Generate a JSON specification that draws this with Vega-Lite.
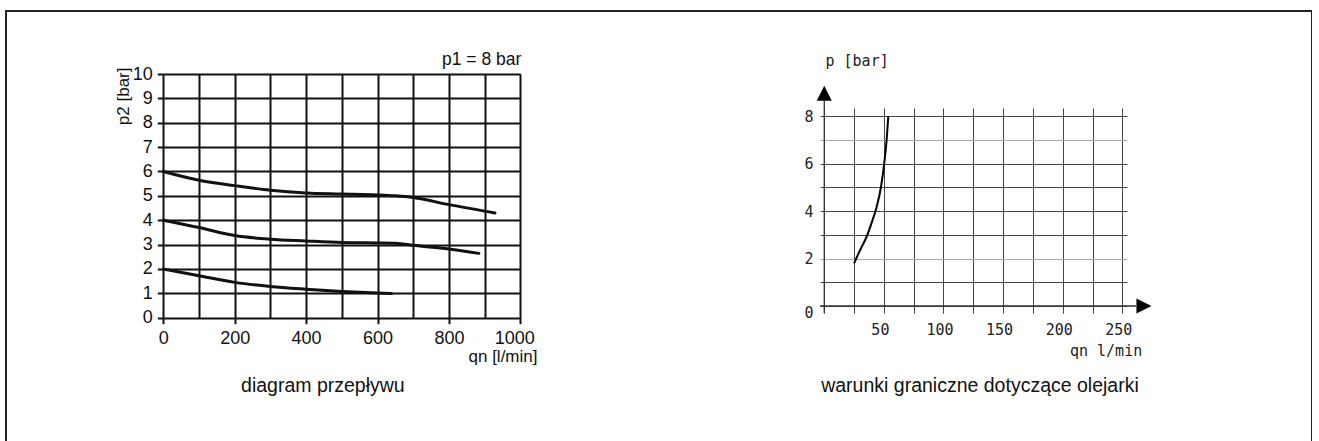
{
  "$schema": "https://vega.github.io/schema/vega-lite/v6.json",
  "width": 1306,
  "height": 440,
  "autosize": {"type": "none"},
  "padding": {"left": 6, "top": 11, "right": 0, "bottom": 0},
  "background": "white",
  "config": {
    "view": {"stroke": "#222", "strokeWidth": 2},
    "axis": {"titleFontWeight": "normal", "labelFlush": false, "labelOverlap": false, "labelBound": false, "labelAngle": 0}
  },
  "resolve": {
    "scale": {"x": "independent", "y": "independent"},
    "axis": {"x": "independent", "y": "independent"}
  },
  "layer": [
    {
      "layer": [
        {
          "data": {"values": [
            {"series": "6", "qn": 0, "p2": 6.0}, {"series": "6", "qn": 100, "p2": 5.64}, {"series": "6", "qn": 200, "p2": 5.42},
            {"series": "6", "qn": 300, "p2": 5.23}, {"series": "6", "qn": 400, "p2": 5.12}, {"series": "6", "qn": 500, "p2": 5.08},
            {"series": "6", "qn": 600, "p2": 5.04}, {"series": "6", "qn": 650, "p2": 5.0}, {"series": "6", "qn": 700, "p2": 4.93},
            {"series": "6", "qn": 800, "p2": 4.64}, {"series": "6", "qn": 929, "p2": 4.3},
            {"series": "4", "qn": 0, "p2": 4.0}, {"series": "4", "qn": 100, "p2": 3.7}, {"series": "4", "qn": 200, "p2": 3.37},
            {"series": "4", "qn": 300, "p2": 3.22}, {"series": "4", "qn": 400, "p2": 3.15}, {"series": "4", "qn": 500, "p2": 3.09},
            {"series": "4", "qn": 600, "p2": 3.07}, {"series": "4", "qn": 650, "p2": 3.06}, {"series": "4", "qn": 700, "p2": 2.97},
            {"series": "4", "qn": 800, "p2": 2.82}, {"series": "4", "qn": 884, "p2": 2.64},
            {"series": "2", "qn": 0, "p2": 2.0}, {"series": "2", "qn": 100, "p2": 1.72}, {"series": "2", "qn": 200, "p2": 1.45},
            {"series": "2", "qn": 300, "p2": 1.28}, {"series": "2", "qn": 400, "p2": 1.17}, {"series": "2", "qn": 500, "p2": 1.08},
            {"series": "2", "qn": 600, "p2": 1.01}, {"series": "2", "qn": 639, "p2": 0.99}
          ]},
          "mark": {"type": "line", "interpolate": "monotone", "stroke": "#111", "strokeWidth": 3, "strokeCap": "round"},
          "encoding": {
            "x": {
              "field": "qn", "type": "quantitative", "title": "qn [l/min]",
              "scale": {"domain": [0, 1000], "range": [157.3, 514.3], "nice": false, "zero": false},
              "axis": {
                "orient": "top", "offset": -306.7, "format": "d",
                "values": [0, 100, 200, 300, 400, 500, 600, 700, 800, 900, 1000],
                "labelExpr": "datum.value % 200 == 0 ? datum.label : ''",
                "grid": true, "gridColor": "#111", "gridWidth": 2, "gridOpacity": 1,
                "domain": false,
                "ticks": true, "tickSize": -6, "tickWidth": 2,
                "tickColor": {"condition": {"test": "datum.value % 200 == 0", "value": "#111"}, "value": "transparent"},
                "labelFont": "Liberation Sans", "labelFontSize": 18, "labelColor": "#111",
                "labelBaseline": "middle", "labelPadding": -14.3,
                "labelOffset": {"condition": {"test": "datum.value == 1000", "value": -6}, "value": 0},
                "titleFont": "Liberation Sans", "titleFontSize": 17, "titleColor": "#111",
                "titleX": 531, "titleY": 38.5, "titleAlign": "right", "titleBaseline": "middle", "titleAngle": 0
              }
            },
            "y": {
              "field": "p2", "type": "quantitative", "title": "p2 [bar]",
              "scale": {"domain": [0, 10], "range": [306.7, 63], "nice": false, "zero": false},
              "axis": {
                "orient": "left", "offset": -157.3,
                "values": [0, 1, 2, 3, 4, 5, 6, 7, 8, 9, 10],
                "grid": true, "gridColor": "#111", "gridWidth": 2, "gridOpacity": 1,
                "domain": false,
                "ticks": true, "tickSize": 6, "tickWidth": 2, "tickColor": "#111",
                "labelFont": "Liberation Sans", "labelFontSize": 18, "labelColor": "#111",
                "labelAlign": "right", "labelBaseline": "middle", "labelPadding": 5,
                "titleFont": "Liberation Sans", "titleFontSize": 17, "titleColor": "#111",
                "titleAngle": 270, "titleX": -40, "titleY": 56, "titleAlign": "right", "titleBaseline": "middle"
              }
            },
            "detail": {"field": "series"}
          }
        },
        {
          "data": {"values": [{"qn": 1000, "p2": 10, "label": "p1 = 8 bar"}]},
          "mark": {"type": "text", "align": "right", "baseline": "middle", "dy": -14, "dx": 1, "font": "Liberation Sans", "fontSize": 17.5, "color": "#111"},
          "encoding": {
            "x": {"field": "qn", "type": "quantitative", "title": "qn [l/min]"},
            "y": {"field": "p2", "type": "quantitative", "title": "p2 [bar]"},
            "text": {"field": "label"}
          }
        },
        {
          "data": {"values": [{"qn": 447, "p2": -2.8, "label": "diagram przepływu"}]},
          "mark": {"type": "text", "align": "center", "baseline": "middle", "font": "Liberation Sans", "fontSize": 19.5, "color": "#111"},
          "encoding": {
            "x": {"field": "qn", "type": "quantitative", "title": "qn [l/min]"},
            "y": {"field": "p2", "type": "quantitative", "title": "p2 [bar]"},
            "text": {"field": "label"}
          }
        }
      ]
    },
    {
      "layer": [
        {
          "data": {"values": [
            {"q": 0, "q2": 0, "p": -0.3, "pe": 8.66},
            {"q": -3.5, "q2": 261.5, "p": 0, "pe": 0}
          ]},
          "mark": {"type": "rule", "color": "#333", "strokeWidth": 1.3},
          "encoding": {
            "x": {
              "field": "q", "type": "quantitative", "title": "qn l/min",
              "scale": {"domain": [-3.5, 254], "range": [814.1, 1121.1], "nice": false, "zero": false},
              "axis": {
                "orient": "top", "offset": -302.1,
                "values": [0, 25, 50, 75, 100, 125, 150, 175, 200, 225, 250],
                "labelExpr": "datum.value % 50 == 0 && datum.value > 0 ? datum.label : ''",
                "grid": true, "gridColor": "#444", "gridWidth": 1, "gridOpacity": 1,
                "domain": false, "ticks": false, "tickSize": 0,
                "labelFont": "DejaVu Sans Mono", "labelFontSize": 15, "labelColor": "#222",
                "labelBaseline": "middle", "labelPadding": -16, "labelOffset": -4,
                "titleFont": "DejaVu Sans Mono", "titleFontSize": 15, "titleColor": "#222",
                "titleX": 1135.7, "titleY": 37.6, "titleAlign": "right", "titleBaseline": "middle", "titleAngle": 0
              }
            },
            "x2": {"field": "q2"},
            "y": {
              "field": "p", "type": "quantitative", "title": "p [bar]",
              "scale": {"domain": [-0.3, 8.35], "range": [302.1, 97.0], "nice": false, "zero": false},
              "axis": {
                "orient": "left", "offset": -814.1,
                "values": [0, 1, 2, 3, 4, 5, 6, 7, 8],
                "labelExpr": "datum.value % 2 == 0 ? datum.label : ''",
                "grid": true,
                "gridColor": {"condition": {"test": "datum.value == 7 || datum.value == 2", "value": "#aaa"}, "value": "#444"},
                "gridWidth": 1, "gridOpacity": 1,
                "domain": false, "ticks": false, "tickSize": 0,
                "labelFont": "DejaVu Sans Mono", "labelFontSize": 15, "labelColor": "#222",
                "labelAlign": "right", "labelBaseline": "middle", "labelPadding": 7,
                "labelOffset": {"condition": {"test": "datum.value == 0", "value": 7}, "value": 0},
                "titleFont": "DejaVu Sans Mono", "titleFontSize": 15, "titleColor": "#222",
                "titleAngle": 0, "titleX": 4.9, "titleY": 49.7, "titleAlign": "left", "titleBaseline": "middle"
              }
            },
            "y2": {"field": "pe"}
          }
        },
        {
          "data": {"values": [
            {"q": 25, "p": 1.8}, {"q": 30, "p": 2.35}, {"q": 35.5, "p": 2.92}, {"q": 40, "p": 3.55},
            {"q": 44, "p": 4.19}, {"q": 47.6, "p": 5.03}, {"q": 50.3, "p": 6.02}, {"q": 52.3, "p": 7.0}, {"q": 53.7, "p": 8.0}
          ]},
          "mark": {"type": "line", "interpolate": "monotone", "stroke": "#000", "strokeWidth": 2},
          "encoding": {
            "x": {"field": "q", "type": "quantitative", "title": "qn l/min"},
            "y": {"field": "p", "type": "quantitative", "title": "p [bar]"}
          }
        },
        {
          "data": {"values": [{"q": 0, "p": 8.975}]},
          "mark": {"type": "point", "shape": "M-1,1L1,1L0,-1Z", "filled": true, "color": "#000", "opacity": 1, "size": 225},
          "encoding": {
            "x": {"field": "q", "type": "quantitative", "title": "qn l/min"},
            "y": {"field": "p", "type": "quantitative", "title": "p [bar]"}
          }
        },
        {
          "data": {"values": [{"q": 268.1, "p": 0}]},
          "mark": {"type": "point", "shape": "M-1,-1L1,0L-1,1Z", "filled": true, "color": "#000", "opacity": 1, "size": 225},
          "encoding": {
            "x": {"field": "q", "type": "quantitative", "title": "qn l/min"},
            "y": {"field": "p", "type": "quantitative", "title": "p [bar]"}
          }
        },
        {
          "data": {"values": [{"q": 130.6, "p": -3.37, "label": "warunki graniczne dotyczące olejarki"}]},
          "mark": {"type": "text", "align": "center", "baseline": "middle", "font": "Liberation Sans", "fontSize": 19.5, "color": "#111"},
          "encoding": {
            "x": {"field": "q", "type": "quantitative", "title": "qn l/min"},
            "y": {"field": "p", "type": "quantitative", "title": "p [bar]"},
            "text": {"field": "label"}
          }
        }
      ]
    }
  ]
}
